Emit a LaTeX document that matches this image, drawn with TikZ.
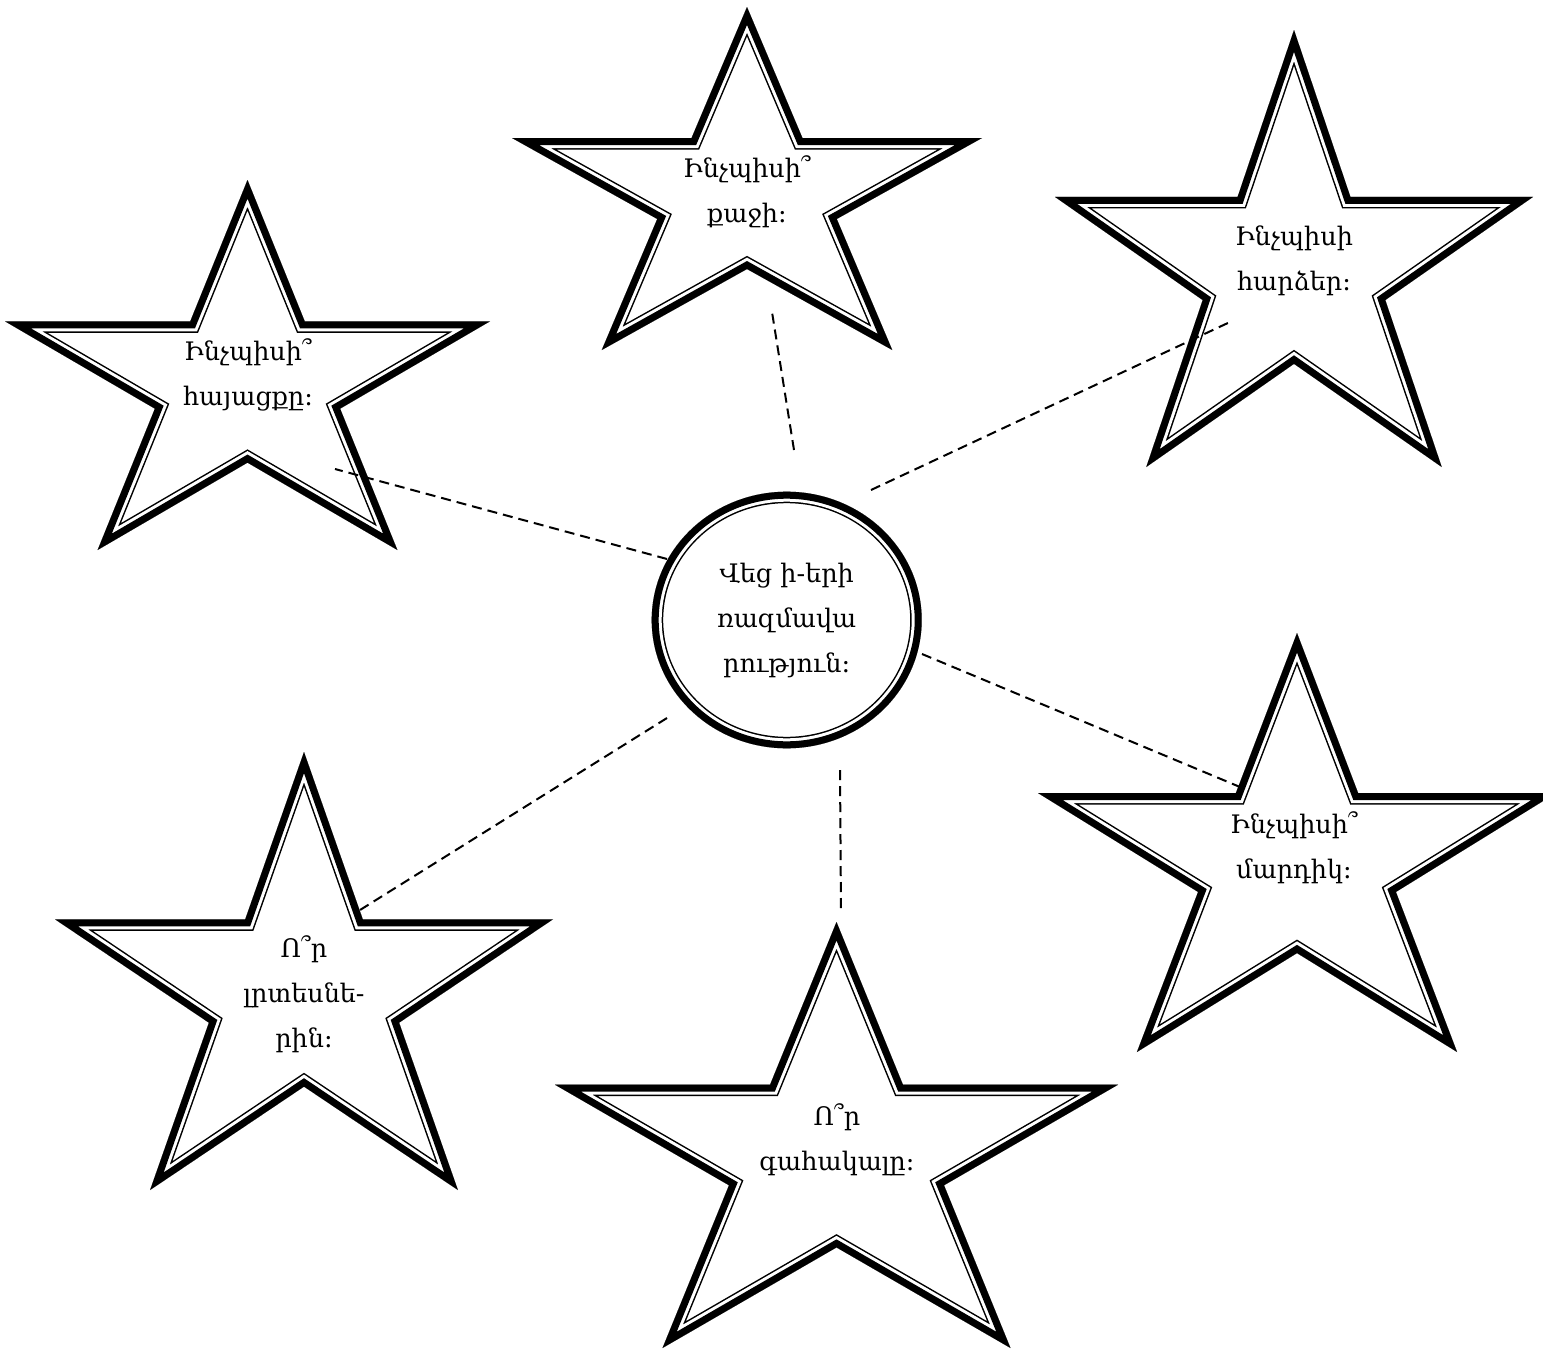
\documentclass[tikz,border=0pt]{standalone}
\usepackage{fontspec}
\setmainfont{DejaVu Serif}
\tikzset{
  starpath/.style n args={4}{insert path={
    ({#1},{#2+0.381966*#4}) -- ({#1+0.381966*#3},{#2+0.381966*#4}) --
    ({#1+0.5*#3},{#2}) -- ({#1+0.618034*#3},{#2+0.381966*#4}) --
    ({#1+#3},{#2+0.381966*#4}) -- ({#1+0.690983*#3},{#2+0.618034*#4}) --
    ({#1+0.809017*#3},{#2+#4}) -- ({#1+0.5*#3},{#2+0.763925*#4}) --
    ({#1+0.190983*#3},{#2+#4}) -- ({#1+0.309017*#3},{#2+0.618034*#4}) -- cycle}},
  lbl/.style={font=\fontsize{25.5}{45}\selectfont, align=center, anchor=base, inner sep=0pt},
  dashline/.style={line width=2pt, dash pattern=on 10pt off 6pt},
  thickpart/.style={line width=14pt, miter limit=20},
  gappart/.style={white, line width=20pt, miter limit=20},
  thinpart/.style={line width=23pt, miter limit=20}
}
\newcommand\compoundstar[4]{%
  \begin{scope}
    \clip[starpath={#1}{#2}{#3}{#4}];
    \fill[white, starpath={#1}{#2}{#3}{#4}];
    \draw[thinpart, starpath={#1}{#2}{#3}{#4}];
    \draw[gappart, starpath={#1}{#2}{#3}{#4}];
    \draw[thickpart, starpath={#1}{#2}{#3}{#4}];
  \end{scope}}
\begin{document}
\begin{tikzpicture}[x=1pt,y=-1pt]
\useasboundingbox (0,0) rectangle (1543,1349);
\fill[white] (0,0) rectangle (1543,1349);

% stars: x0 y0 width height
\compoundstar{512}{7}{470}{343}      % A top
\compoundstar{5}{180}{485}{370}      % B left top
\compoundstar{1055}{30}{478}{437}    % C right top
\compoundstar{1038}{633}{518}{419}   % D right bottom
\compoundstar{555}{922}{563}{426}    % E bottom
\compoundstar{55}{752}{498}{438}     % F left bottom

% centre circle
\begin{scope}
  \clip (786.7,620) ellipse [x radius=135, y radius=128.3];
  \fill[white] (786.7,620) ellipse [x radius=135, y radius=128.3];
  \draw[thinpart] (786.7,620) ellipse [x radius=135, y radius=128.3];
  \draw[gappart] (786.7,620) ellipse [x radius=135, y radius=128.3];
  \draw[thickpart] (786.7,620) ellipse [x radius=135, y radius=128.3];
\end{scope}
\coordinate (hub) at (786.7,620);

% labels (anchored at the baseline of their last line)
\node[lbl] (tHub) at (786.7,672) {Վեց ի-երի\\ռազմավա\\րություն։};
\node[lbl] (tA) at (747,222) {Ինչպիսի՞\\քաջի։};
\node[lbl] (tB) at (248,405) {Ինչպիսի՞\\հայացքը։};
\node[lbl] (tC) at (1294,290) {Ինչպիսի\\հարձեր։};
\node[lbl] (tD) at (1294,878) {Ինչպիսի՞\\մարդիկ։};
\node[lbl] (tE) at (837,1170) {Ո՞ր\\գահակալը։};
\node[lbl] (tF) at (304,1047) {Ո՞ր\\լրտեսնե-\\րին։};

% connector end points
\coordinate (hA) at (794,450);   \coordinate (sA) at (772,312);
\coordinate (hB) at (667,559);   \coordinate (sB) at (335,469);
\coordinate (hC) at (871,490);   \coordinate (sC) at (1230,322);
\coordinate (hD) at (922,654);   \coordinate (sD) at (1240,787);
\coordinate (hE) at (840,770);   \coordinate (sE) at (841,912);
\coordinate (hF) at (667,718);   \coordinate (sF) at (360,910);

\draw[dashline] (hA) -- (sA);
\draw[dashline] (hB) -- (sB);
\draw[dashline] (hC) -- (sC);
\draw[dashline] (hD) -- (sD);
\draw[dashline] (hE) -- (sE);
\draw[dashline] (hF) -- (sF);
\end{tikzpicture}
\end{document}
